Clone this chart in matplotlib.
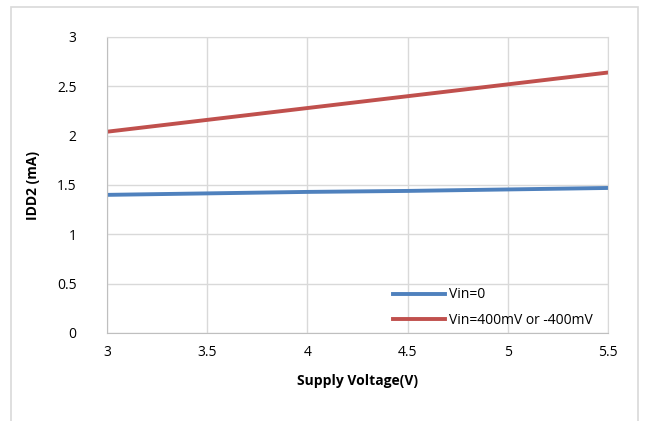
import matplotlib.pyplot as plt
from matplotlib.patches import Rectangle

plt.rcParams['font.family'] = ['Open Sans', 'DejaVu Sans']

voltage = [3, 3.5, 4, 4.5, 5, 5.5]
idd_vin0 = [1.40, 1.415, 1.43, 1.44, 1.455, 1.47]
idd_vin400 = [2.04, 2.16, 2.28, 2.40, 2.52, 2.64]
labels = ['Vin=0', 'Vin=400mV or -400mV']

fig = plt.figure(figsize=(6.5, 4.21), dpi=100)
W, H = 650, 421

# outer chart border
fig.patches.append(Rectangle((11 / W, -0.05), (638 - 11) / W, 1 - 7 / H + 0.05,
                             transform=fig.transFigure, fill=False,
                             edgecolor='#d9d9d9', linewidth=1.2))

ax = fig.add_axes([107 / W, 1 - 333 / H, (608 - 107) / W, (333 - 37) / H])
ax.plot(voltage, idd_vin0, color='#4f81bd', linewidth=2.8, label=labels[0])
ax.plot(voltage, idd_vin400, color='#c0504d', linewidth=2.8, label=labels[1])

ax.set_xlim(3, 5.5)
ax.set_ylim(0, 3)
ax.set_xticks(voltage)
ax.set_xticklabels(['3', '3.5', '4', '4.5', '5', '5.5'])
ax.set_yticks([0, 0.5, 1, 1.5, 2, 2.5, 3])
ax.set_yticklabels(['0', '0.5', '1', '1.5', '2', '2.5', '3'])
ax.grid(True, color='#d9d9d9', linewidth=1)
ax.set_axisbelow(True)
for s in ax.spines.values():
    s.set_color('#d9d9d9')
ax.spines['left'].set_color('#bfbfbf')
ax.spines['bottom'].set_color('#bfbfbf')
ax.tick_params(length=0, labelsize=10, colors='#000000')
ax.tick_params(axis='x', pad=9)
ax.tick_params(axis='y', pad=22)

ax.set_xlabel('Supply Voltage(V)', fontsize=10, fontweight='bold', labelpad=10)
ax.set_ylabel('IDD2 (mA)', fontsize=10, fontweight='bold', labelpad=12)

ax.legend(loc='upper left', bbox_to_anchor=(380 / W, 1 - 275 / H),
          bbox_transform=fig.transFigure, frameon=False, fontsize=10,
          handlelength=3.8, handletextpad=0.3, labelspacing=0.75)

fig.savefig('out.png', dpi=100)
